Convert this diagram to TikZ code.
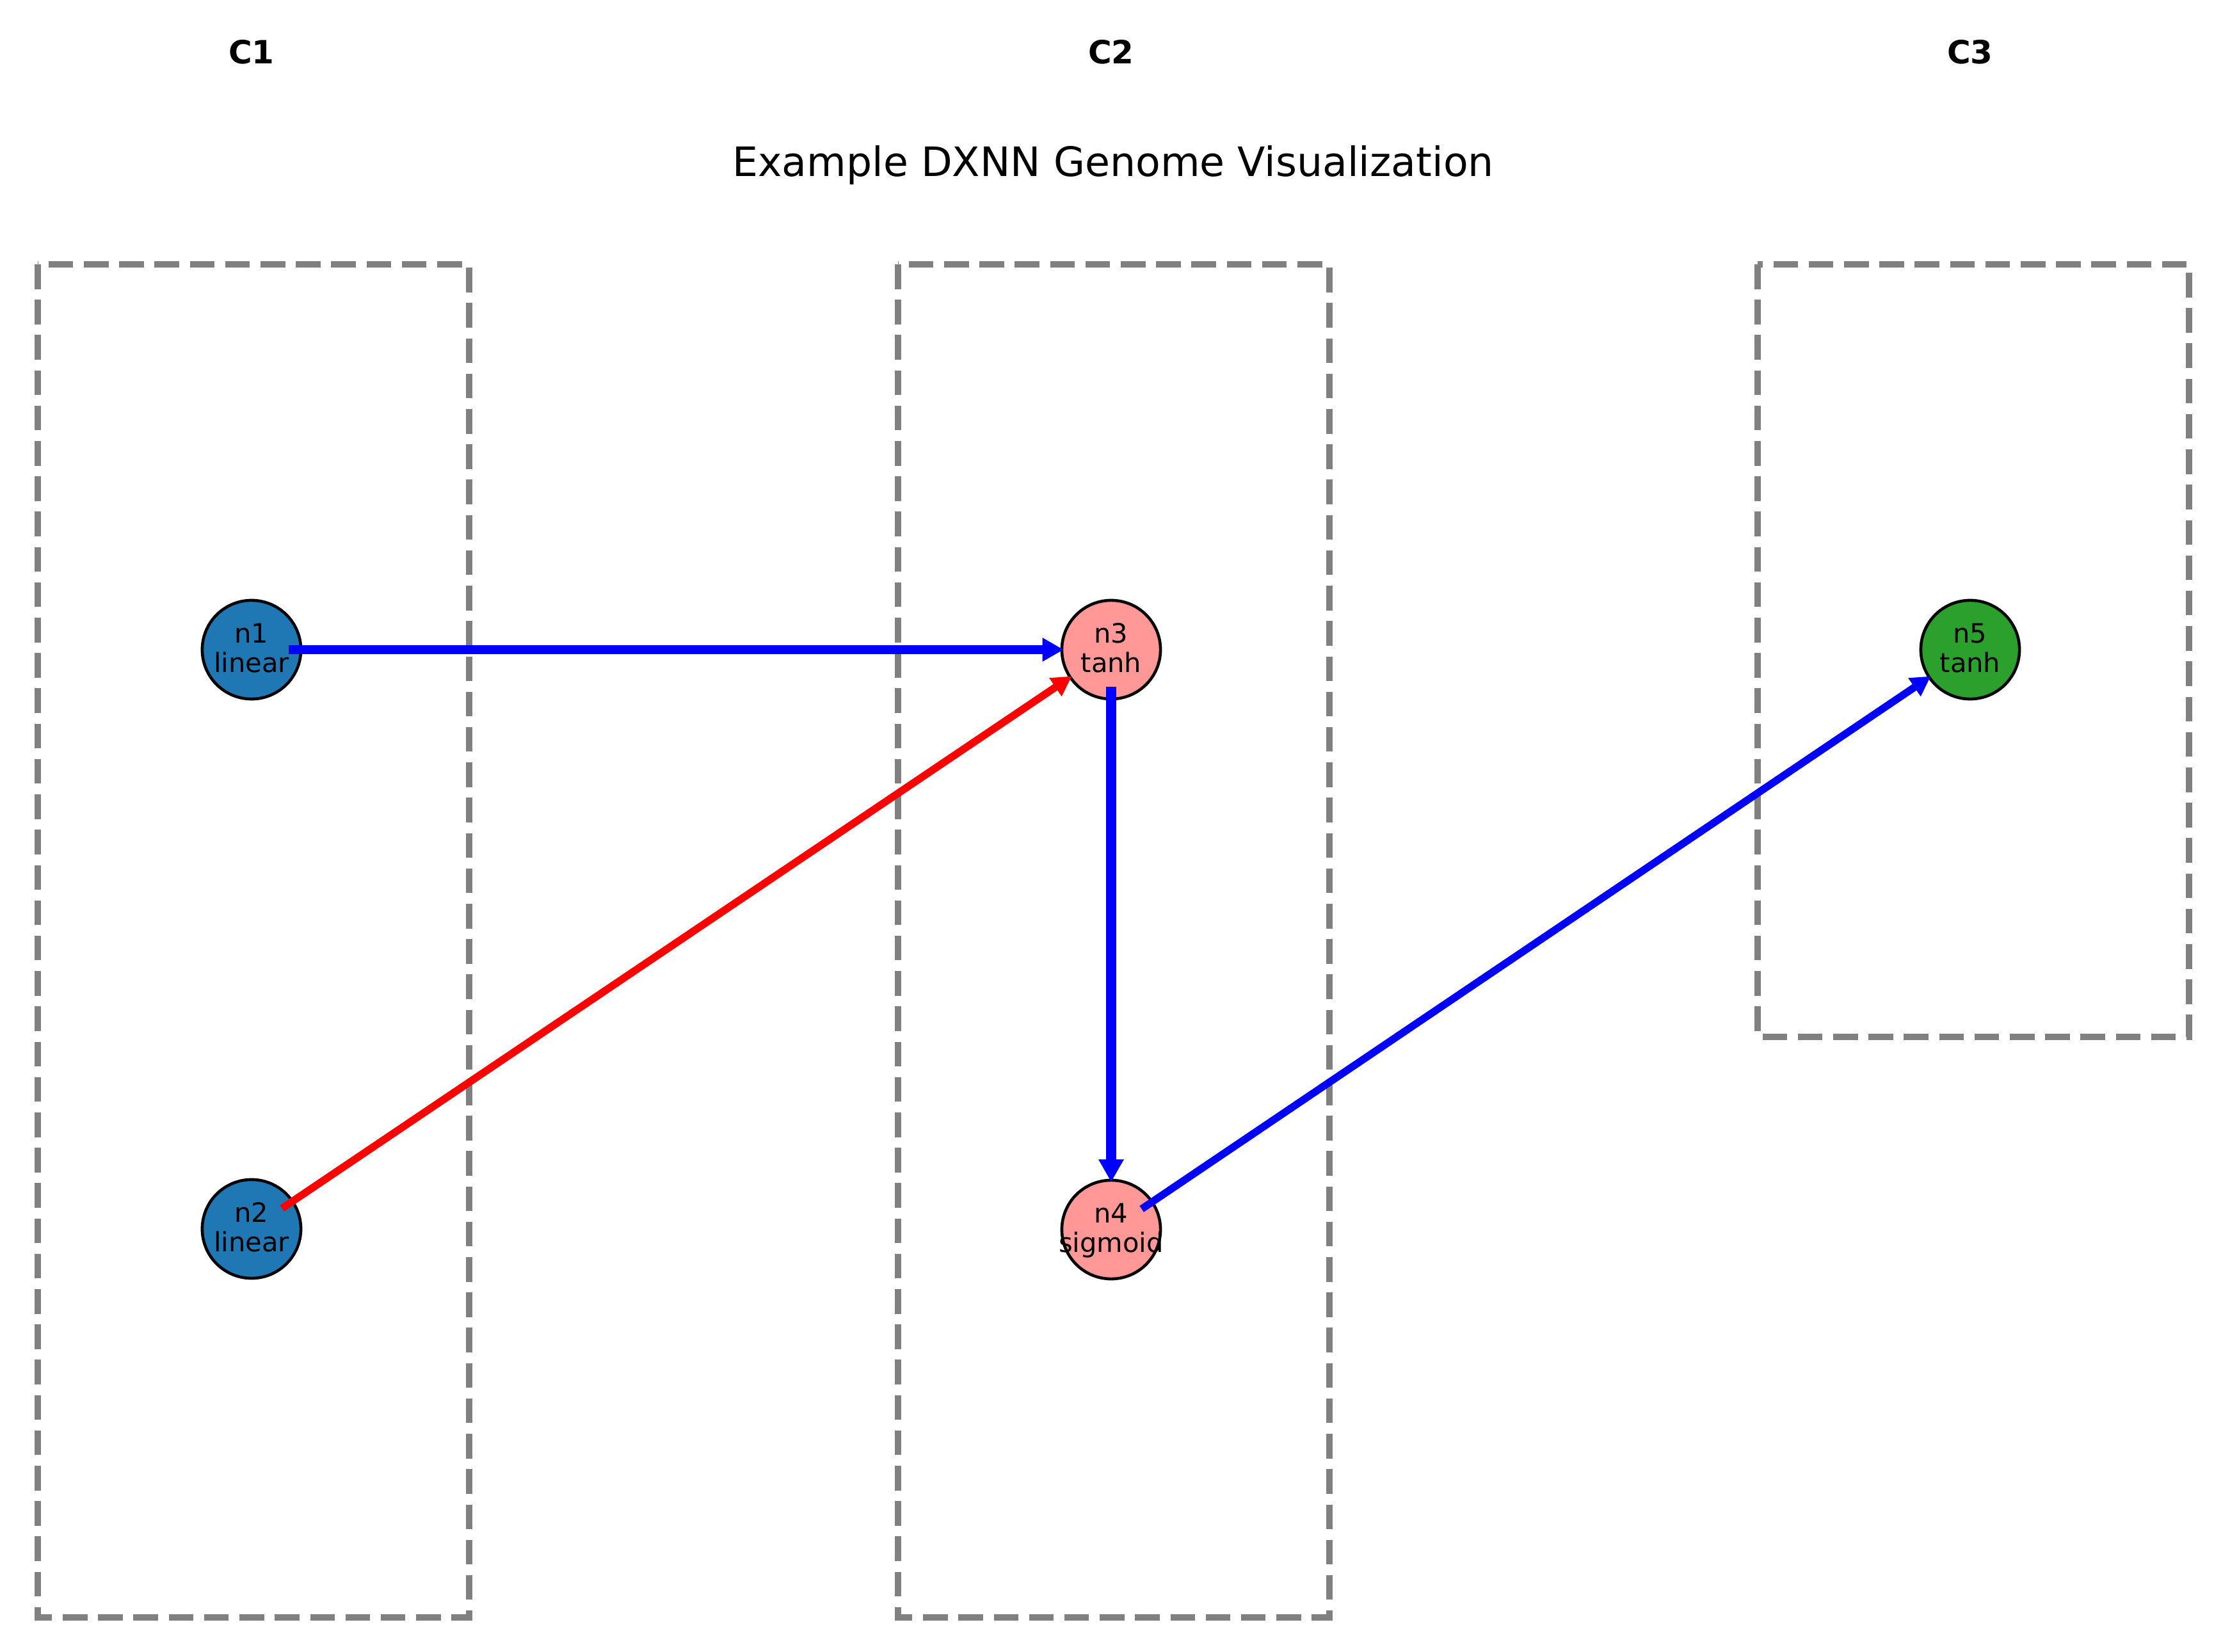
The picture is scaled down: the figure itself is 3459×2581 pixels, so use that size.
\documentclass[tikz,border=0pt]{standalone}
\usepackage{fontspec}
\setmainfont{DejaVu Sans}
\usetikzlibrary{arrows.meta}
\definecolor{tabblue}{HTML}{1F77B4}
\definecolor{tabpink}{HTML}{FF9896}
\definecolor{tabgreen}{HTML}{2CA02C}
\definecolor{boxgray}{HTML}{808080}
\begin{document}
\begin{tikzpicture}[x=0.24pt, y=-0.24pt,
  clusterbox/.style={draw=boxgray, line width=2.6pt, dash pattern=on 9.25pt off 4pt},
  neuron/.style={circle, draw=black, line width=1.1pt, minimum size=37pt, inner sep=0pt},
  neurontext/.style={font=\fontsize{10}{11}\selectfont, align=center, inner sep=0pt, text depth=0pt, yshift=0.7pt},
  collabel/.style={font=\bfseries\fontsize{12}{14}\selectfont, anchor=base, inner sep=0pt},
  titletext/.style={font=\fontsize{15.2}{18}\selectfont, anchor=base, inner sep=0pt},
  edge/.style={-{Triangle[length=4.6pt 1, width=5pt 1]}, shorten <=13.8pt, shorten >=17.8pt},
]
\fill[white] (0,0) rectangle (3459,2581);
\useasboundingbox (0,0) rectangle (3459,2581);

% cluster boxes
\draw[clusterbox] (59,413) rectangle (733,2527);
\draw[clusterbox] (1403,413) rectangle (2077,2527);
\draw[clusterbox] (2746,413) rectangle (3420,1620);

% column labels and title
\node[collabel] (c1) at (393,99) {C1};
\node[collabel] (c2) at (1736,99) {C2};
\node[collabel] (c3) at (3078,99) {C3};
\node[titletext] (title) at (1739,275) {Example DXNN Genome Visualization};

% neurons
\node[neuron, fill=tabblue] (n1) at (393,1015) {};
\node[neuron, fill=tabblue] (n2) at (393,1920) {};
\node[neuron, fill=tabpink] (n3) at (1736,1015) {};
\node[neuron, fill=tabpink] (n4) at (1736,1921) {};
\node[neuron, fill=tabgreen] (n5) at (3078,1015) {};

% connections
\draw[edge, blue, line width=3.4pt] (n1.center) -- (n3.center);
\draw[edge, red, line width=2.8pt] (n2.center) -- (n3.center);
\draw[edge, blue, line width=3.9pt] (n3.center) -- (n4.center);
\draw[edge, blue, line width=2.8pt] (n4.center) -- (n5.center);

% neuron labels
\node[neurontext] (n1t) at (n1.center) {n1\\linear};
\node[neurontext] (n2t) at (n2.center) {n2\\linear};
\node[neurontext] (n3t) at (n3.center) {n3\\tanh};
\node[neurontext] (n4t) at (n4.center) {n4\\sigmoid};
\node[neurontext] (n5t) at (n5.center) {n5\\tanh};
\end{tikzpicture}
\end{document}
